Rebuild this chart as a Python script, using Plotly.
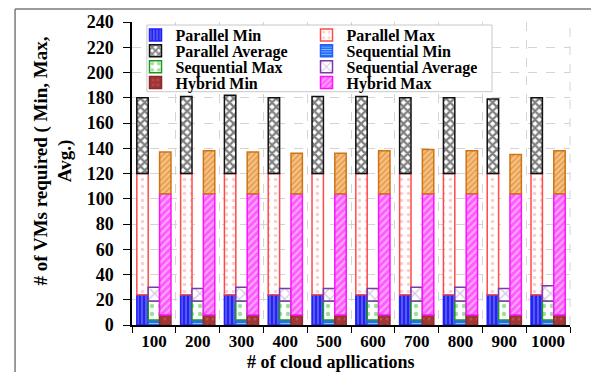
import plotly.graph_objects as go

categories = ["100", "200", "300", "400", "500", "600", "700", "800", "900", "1000"]

parallel_min = [24, 24, 24, 24, 24, 24, 24, 24, 24, 24]
parallel_max = [96, 96, 96, 96, 96, 96, 96, 96, 96, 96]
parallel_avg = [60, 61, 62, 60, 61, 61, 60, 60, 59, 60]

sequential_min = [4, 4, 4, 4, 4, 4, 4, 4, 4, 4]
sequential_max = [15, 15, 15, 15, 15, 15, 15, 15, 15, 15]
sequential_avg = [11, 10, 11, 10, 10, 10, 11, 11, 10, 12]

hybrid_min = [8, 8, 8, 8, 8, 8, 8, 8, 8, 8]
hybrid_max = [96, 96, 96, 96, 96, 96, 96, 96, 96, 96]
hybrid_avg = [33, 34, 33, 32, 32, 34, 35, 34, 31, 34]

y_ticks = [0, 20, 40, 60, 80, 100, 120, 140, 160, 180, 200, 220, 240]

FONT = "Liberation Serif"
n = len(categories)
pos = list(range(1, n + 1))
W = 0.26

series = [
    # name, values, offset, bg, fg, shape, size, solidity, line, legend id
    ("Parallel Min", parallel_min, -W, "#2424f0", "#b8b8ff", "|", 4, 0.35, "#2020ff", "legend"),
    ("Parallel Max", parallel_max, -W, "white", "#ff9a9a", ".", 7, 0.2, "#ff4a4a", "legend"),
    ("Parallel Average", parallel_avg, -W, "white", "black", "x", 6, 0.6, "#111111", "legend2"),
    ("Sequential Min", sequential_min, 0, "#1f6fff", "white", "-", 3, 0.35, "#2060ff", "legend2"),
    ("Sequential Max", sequential_max, 0, "white", "#3cc03c", ".", 8, 0.25, "#1a9a1a", "legend3"),
    ("Sequential Average", sequential_avg, 0, "white", "#a888cc", "x", 8, 0.3, "#7a3aa8", "legend3"),
    ("Hybrid Min", hybrid_min, W, "#a23434", "#c87070", ".", 6, 0.2, "#8a2a2a", "legend4"),
    ("Hybrid Max", hybrid_max, W, "#ff5cff", "white", "/", 5, 0.4, "#ff10ff", "legend4"),
    ("Hybrid Average", hybrid_avg, W, "#f7c98e", "#d9771a", "/", 4, 0.55, "#cf7414", None),
]

fig = go.Figure()
for name, vals, off, bg, fg, shp, sz, sol, lc, leg in series:
    fig.add_trace(go.Bar(
        x=[p + off for p in pos], y=vals, width=W, name="<b>" + name + "</b>",
        showlegend=leg is not None, legend=leg or "legend",
        marker=dict(color=bg, line=dict(color=lc, width=1.5),
                    pattern=dict(shape=shp, fgcolor=fg, bgcolor=bg, size=sz,
                                 solidity=sol, fillmode="overlay")),
    ))

grid = dict(gridcolor="#d4d4d4", griddash="dash", gridwidth=1)

row_y = [0.957, 0.905, 0.852, 0.800]
leg_common = dict(orientation="h", x=0.008, xanchor="left", yanchor="middle",
                  entrywidth=126, font=dict(family=FONT, size=16, weight="bold"),
                  bgcolor="rgba(0,0,0,0)", borderwidth=0, itemwidth=30)

fig.update_layout(
    width=591, height=372,
    margin=dict(l=132, r=21, t=20, b=47),
    barmode="relative",
    plot_bgcolor="white", paper_bgcolor="white",
    font=dict(family=FONT, size=18, color="black", weight="bold"),
    showlegend=True,
    legend=dict(y=row_y[0], **leg_common),
    legend2=dict(y=row_y[1], **leg_common),
    legend3=dict(y=row_y[2], **leg_common),
    legend4=dict(y=row_y[3], **leg_common),
    xaxis=dict(range=[0.5, n + 0.5], tickmode="array", tickvals=pos, ticktext=categories,
               ticks="", showgrid=False, showline=True, linecolor="black", linewidth=1.5,
               ticklabelstandoff=0, zeroline=False,
               tickfont=dict(family=FONT, size=17, weight="bold"),
               minor=dict(tick0=0.5, dtick=1, ticks="outside", ticklen=6,
                          tickcolor="black", showgrid=True, gridcolor="#d4d4d4",
                          griddash="dash")),
    yaxis=dict(range=[0, 240], tickmode="array", tickvals=y_ticks, ticks="outside",
               ticklen=7, tickcolor="black", showline=True, linecolor="black",
               linewidth=1.5, zeroline=False, ticklabelstandoff=6, **grid),
    annotations=[
        dict(text="# of VMs required ( Min, Max,<br>Avg.)", textangle=-90,
             xref="paper", yref="paper", x=-0.18, y=0.54, xanchor="center",
             yanchor="middle", showarrow=False, align="center",
             font=dict(family=FONT, size=19, weight="bold")),
        dict(text="# of cloud apllications", xref="paper", yref="paper",
             x=0.454, y=-0.123, xanchor="center", yanchor="middle", showarrow=False,
             font=dict(family=FONT, size=18, weight="bold")),
    ],
    shapes=[
        dict(type="line", xref="paper", yref="paper", x0=-0.267, x1=1.1, y0=1.0426,
             y1=1.0426, line=dict(color="#7a7a7a", width=1.5)),
        dict(type="line", xref="paper", yref="paper", x0=-0.267, x1=-0.267, y0=1.0426,
             y1=-0.2, line=dict(color="#7a7a7a", width=1.5)),
        dict(type="line", xref="paper", yref="paper", x0=1, x1=1, y0=0, y1=1,
             line=dict(color="#d4d4d4", width=1, dash="dash"), layer="below"),
        dict(type="rect", xref="paper", yref="paper", x0=0.034, x1=0.822, y0=0.770,
             y1=0.990, fillcolor="white", line=dict(color="#c8c8c8", width=1),
             layer="above"),
    ],
)

fig.write_html("out.html")
